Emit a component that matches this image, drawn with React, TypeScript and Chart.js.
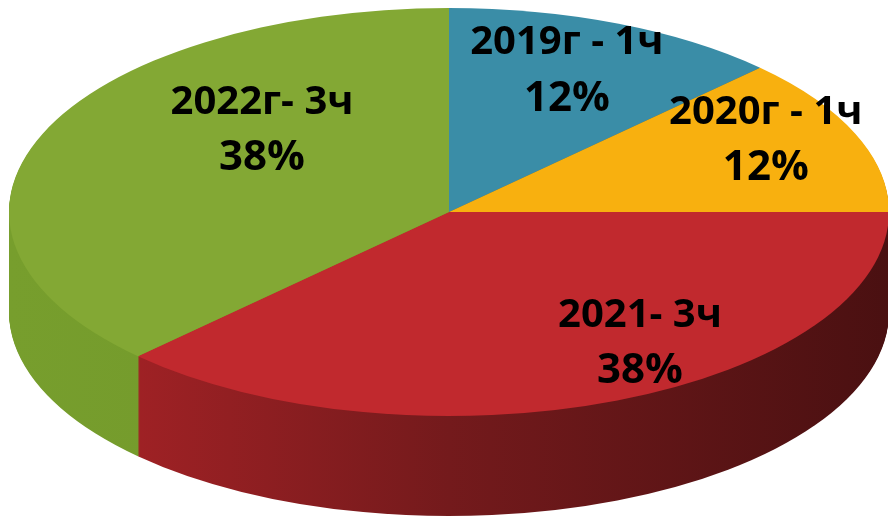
import React, { useEffect, useRef } from "react";
import { Chart, registerables } from "chart.js";

Chart.register(...registerables);

// ---- data ----
const categories = ["2019г - 1ч", "2020г - 1ч", "2021- 3ч", "2022г- 3ч"];
const values = [1, 1, 3, 3];
const percentLabels = ["12%", "12%", "38%", "38%"];

// ---- styling ----
const topColors = ["#3A8DA7", "#F8B00F", "#C1292E", "#83A834"];
const wallStops: string[][] = [
  ["#2C6F84", "#245C6E"],
  ["#C98C08", "#A87406"],
  ["#B02428", "#741A1C", "#4A1011"],
  ["#779E2D", "#6B9028"],
];
// label anchors as fractions of the pie's radii (relative to centre)
const labelFx = [0.268, 0.72, 0.434, -0.425];
const labelFy = [-0.707, -0.366, 0.629, -0.415];

const CX = 449;
const CY = 212;
const RX = 440;
const RY = 204;
const DEPTH = 100;

const pie3d = {
  id: "pie3d",
  beforeDatasetsDraw(chart: any) {
    const meta = chart.getDatasetMeta(0);
    const arcs = meta.data;
    if (!arcs.length) return;
    const a0 = arcs[0];
    const R = a0.outerRadius;
    const sx = RX / R;
    const sy = RY / R;
    const ctx: CanvasRenderingContext2D = chart.ctx;
    ctx.save();
    ctx.translate(CX, CY);
    ctx.scale(sx, sy);
    ctx.translate(-a0.x, -a0.y);
    const grads = wallStops.map((stops) => {
      const g = ctx.createLinearGradient(a0.x - R, 0, a0.x + R, 0);
      stops.forEach((c, k) => g.addColorStop(k / (stops.length - 1), c));
      return g;
    });
    for (let d = DEPTH; d >= 1; d--) {
      ctx.save();
      ctx.translate(0, d / sy);
      arcs.forEach((arc: any, i: number) => {
        const orig = arc.options;
        arc.options = Object.assign({}, orig, {
          backgroundColor: grads[i],
          borderWidth: 0,
        });
        arc.draw(ctx);
        arc.options = orig;
      });
      ctx.restore();
    }
  },
  afterDatasetsDraw(chart: any) {
    const ctx: CanvasRenderingContext2D = chart.ctx;
    ctx.restore();
    const labels: string[] = chart.data.labels;
    ctx.save();
    ctx.fillStyle = "#000";
    ctx.textAlign = "center";
    ctx.textBaseline = "alphabetic";
    labels.forEach((name, i) => {
      const x = CX + labelFx[i] * RX;
      const y = CY + labelFy[i] * RY;
      const s1 = 40;
      ctx.font = `bold ${s1}px "Open Sans"`;
      ctx.fillText(name, x, y - 28 + (0.714 * s1) / 2);
      const s2 = 42;
      ctx.font = `bold ${s2}px "Open Sans"`;
      ctx.fillText(percentLabels[i], x, y + 28 + (0.714 * s2) / 2);
    });
    ctx.restore();
  },
};

export default function App() {
  const ref = useRef<HTMLCanvasElement>(null);
  useEffect(() => {
    document.body.style.margin = "0";
    const chart = new Chart(ref.current as HTMLCanvasElement, {
      type: "pie",
      data: {
        labels: categories,
        datasets: [
          {
            data: values,
            backgroundColor: topColors,
            borderWidth: 0,
            clip: false as any,
          } as any,
        ],
      },
      options: {
        animation: false,
        responsive: false,
        devicePixelRatio: 1,
        events: [],
        plugins: {
          legend: { display: false },
          tooltip: { enabled: false },
        },
      },
      plugins: [pie3d as any],
    });
    return () => chart.destroy();
  }, []);
  return (
    <div style={{ width: 888, height: 526, background: "#fff" }}>
      <canvas ref={ref} width={888} height={526} style={{ display: "block" }} />
    </div>
  );
}
